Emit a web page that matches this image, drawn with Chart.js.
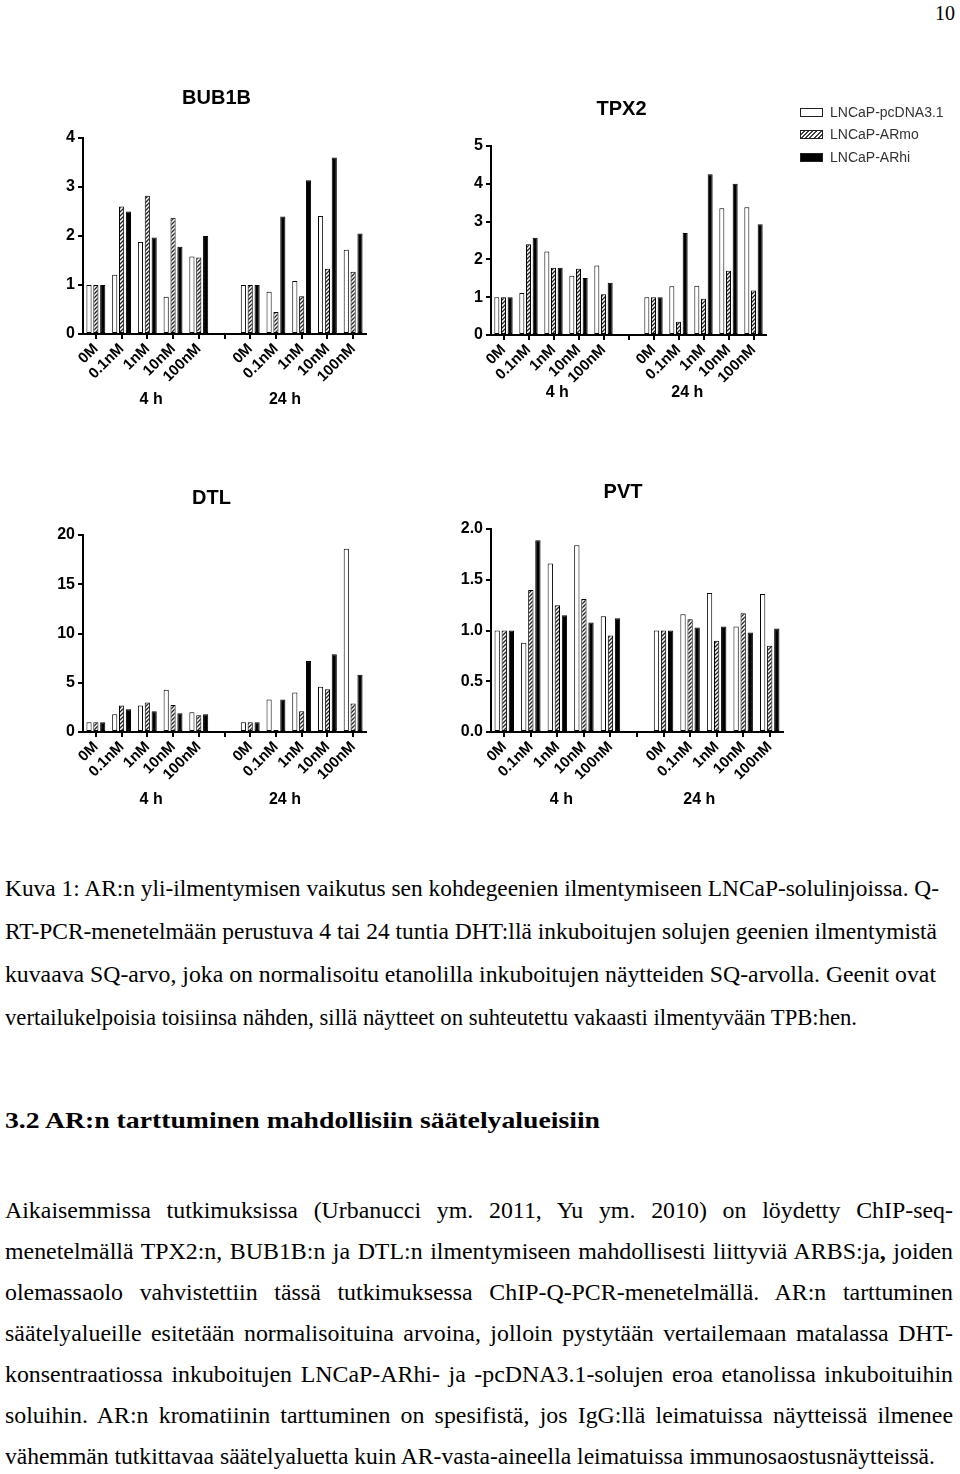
<!DOCTYPE html>
<html><head><meta charset="utf-8">
<script src="https://cdn.jsdelivr.net/npm/chart.js@4.4.1/dist/chart.umd.min.js"></script>
<style>
html,body{margin:0;padding:0;background:#fff;}
body{width:960px;height:1474px;position:relative;overflow:hidden;font-family:"Liberation Serif","Times New Roman",serif;color:#000;}
canvas.cv{position:absolute;}
.line{position:absolute;left:5px;white-space:nowrap;transform-origin:0 0;line-height:1;}
.cap{font-size:23.5px;}
.body{font-size:24px;}
.head{font-size:23px;font-weight:bold;}
.legend{position:absolute;left:800px;top:100px;font-family:"Liberation Sans",Arial,sans-serif;font-size:14px;color:#333;}
.legend div{position:absolute;left:0;white-space:nowrap;height:20px;}
.legend span.sw{position:absolute;left:0;width:23px;height:9px;border:1px solid #222;box-sizing:border-box;}
.legend span.tx{position:absolute;left:30px;top:0;line-height:20px;}
</style>
</head><body>

<canvas id="c_bub1b" class="cv" width="400" height="360" style="left:0px;top:60px;"></canvas>
<canvas id="c_tpx2" class="cv" width="400" height="360" style="left:410px;top:60px;"></canvas>
<canvas id="c_dtl" class="cv" width="400" height="380" style="left:0px;top:440px;"></canvas>
<canvas id="c_pvt" class="cv" width="400" height="380" style="left:410px;top:440px;"></canvas>

<div class="legend" id="legend"></div>

<div class="line" style="font-size:20px;" data-b="20" data-r="955">10</div>

<div class="line cap" data-b="897" data-w="939">Kuva 1: AR:n yli-ilmentymisen vaikutus sen kohdegeenien ilmentymiseen LNCaP-solulinjoissa. Q-</div>
<div class="line cap" data-b="940" data-w="937">RT-PCR-menetelmään perustuva 4 tai 24 tuntia DHT:llä inkuboitujen solujen geenien ilmentymistä</div>
<div class="line cap" data-b="983" data-w="936">kuvaava SQ-arvo, joka on normalisoitu etanolilla inkuboitujen näytteiden SQ-arvolla. Geenit ovat</div>
<div class="line cap" data-b="1026" data-w="857">vertailukelpoisia toisiinsa nähden, sillä näytteet on suhteutettu vakaasti ilmentyvään TPB:hen.</div>

<div class="line head" data-b="1128" data-w="600">3.2 AR:n tarttuminen mahdollisiin säätelyalueisiin</div>

<div class="line body" data-b="1218" data-w="953" data-j="1">Aikaisemmissa tutkimuksissa (Urbanucci ym. 2011, Yu ym. 2010) on löydetty ChIP-seq-</div>
<div class="line body" data-b="1259" data-w="953" data-j="1">menetelmällä TPX2:n, BUB1B:n ja DTL:n ilmentymiseen mahdollisesti liittyviä ARBS:ja<b>,</b> joiden</div>
<div class="line body" data-b="1300" data-w="953" data-j="1">olemassaolo vahvistettiin tässä tutkimuksessa ChIP-Q-PCR-menetelmällä. AR:n tarttuminen</div>
<div class="line body" data-b="1341" data-w="953" data-j="1">säätelyalueille esitetään normalisoituina arvoina, jolloin pystytään vertailemaan matalassa DHT-</div>
<div class="line body" data-b="1382" data-w="953" data-j="1">konsentraatiossa inkuboitujen LNCaP-ARhi- ja -pcDNA3.1-solujen eroa etanolissa inkuboituihin</div>
<div class="line body" data-b="1423" data-w="953" data-j="1">soluihin. AR:n kromatiinin tarttuminen on spesifistä, jos IgG:llä leimatuissa näytteissä ilmenee</div>
<div class="line body" data-b="1464" data-w="935">vähemmän tutkittavaa säätelyaluetta kuin AR-vasta-aineella leimatuissa immunosaostusnäytteissä.</div>

<script>
// ---------- DATA ----------
const categories = ['0M', '0.1nM', '1nM', '10nM', '100nM', '', '0M', '0.1nM', '1nM', '10nM', '100nM'];
const groupLabels = ['4 h', '24 h'];
const seriesNames = ['LNCaP-pcDNA3.1', 'LNCaP-ARmo', 'LNCaP-ARhi'];

const bub1bPcDNA = [1, 1.21, 1.88, 0.76, 1.58, null, 1, 0.86, 1.08, 2.41, 1.72];
const bub1bARmo  = [1, 2.60, 2.82, 2.37, 1.56, null, 1, 0.45, 0.77, 1.33, 1.27];
const bub1bARhi  = [1, 2.50, 1.97, 1.78, 2.00, null, 1, 2.40, 3.14, 3.60, 2.05];
const bub1bYTicks = [0, 1, 2, 3, 4];

const tpx2PcDNA = [1, 1.11, 2.21, 1.57, 1.84, null, 1, 1.29, 1.30, 3.35, 3.38];
const tpx2ARmo  = [1, 2.40, 1.78, 1.75, 1.08, null, 1, 0.35, 0.96, 1.70, 1.18];
const tpx2ARhi  = [1, 2.57, 1.78, 1.51, 1.38, null, 1, 2.70, 4.25, 4.00, 2.93];
const tpx2YTicks = [0, 1, 2, 3, 4, 5];

const dtlPcDNA = [1, 1.8, 2.7, 4.3, 2.0, null, 1, 3.3, 4.0, 4.6, 18.6];
const dtlARmo  = [1, 2.7, 3.0, 2.75, 1.7, null, 1, 0.2, 2.1, 4.35, 2.9];
const dtlARhi  = [1, 2.3, 2.1, 1.9, 1.8, null, 1, 3.3, 7.2, 7.9, 5.8];
const dtlYTicks = [0, 5, 10, 15, 20];

const pvtPcDNA = [1, 0.88, 1.66, 1.84, 1.14, null, 1, 1.16, 1.37, 1.04, 1.36];
const pvtARmo  = [1, 1.40, 1.25, 1.31, 0.95, null, 1.0, 1.11, 0.90, 1.17, 0.85];
const pvtARhi  = [1, 1.89, 1.15, 1.08, 1.12, null, 1, 1.03, 1.04, 0.98, 1.02];
const pvtYTicks = ['0.0', '0.5', '1.0', '1.5', '2.0'];

// ---------- RENDER ----------
Chart.defaults.font.family = '"Liberation Sans", Arial, sans-serif';
Chart.defaults.color = '#000';

function makeHatch() {
  const c = document.createElement('canvas'); c.width = 4; c.height = 4;
  const g = c.getContext('2d');
  g.fillStyle = '#fff'; g.fillRect(0, 0, 4, 4);
  g.strokeStyle = '#222'; g.lineWidth = 1.3;
  g.beginPath();
  g.moveTo(0, 4); g.lineTo(4, 0);
  g.moveTo(-1, 1); g.lineTo(1, -1);
  g.moveTo(3, 5); g.lineTo(5, 3);
  g.stroke();
  return g.createPattern(c, 'repeat');
}
const hatch = makeHatch();

// draws chart title and the "4 h" / "24 h" group labels
const annotPlugin = {
  id: 'annot',
  afterDraw(chart, args, opts) {
    const xs = chart.scales.x;
    const ca = chart.chartArea;
    const w = xs.getPixelForValue(1) - xs.getPixelForValue(0);
    const g = chart.ctx;
    g.save();
    g.fillStyle = '#000';
    g.textAlign = 'center';
    g.textBaseline = 'middle';
    g.font = 'bold 20px "Liberation Sans", Arial, sans-serif';
    g.fillText(opts.title, (ca.left + ca.right) / 2 + opts.titleDx, opts.titleY);
    g.font = 'bold 16px "Liberation Sans", Arial, sans-serif';
    const x1 = (xs.getPixelForValue(0) + xs.getPixelForValue(4)) / 2 + 0.15 * w;
    const x2 = (xs.getPixelForValue(6) + xs.getPixelForValue(10)) / 2 - 0.65 * w;
    g.fillText(groupLabels[0], x1, opts.gY);
    g.fillText(groupLabels[1], x2, opts.gY);
    g.restore();
  }
};

function makeChart(id, title, series, yTicks, geom) {
  const yMax = parseFloat(yTicks[yTicks.length - 1]);
  const yStep = parseFloat(yTicks[1]) - parseFloat(yTicks[0]);
  const dec = String(yTicks[1]).includes('.') ? 1 : 0;
  const fills = ['#fff', hatch, '#000'];
  return new Chart(document.getElementById(id), {
    type: 'bar',
    data: {
      labels: categories,
      datasets: series.map((d, i) => ({
        label: seriesNames[i], data: d, backgroundColor: fills[i],
        borderColor: '#000', borderWidth: 1, borderSkipped: false
      }))
    },
    options: {
      responsive: false, animation: false, devicePixelRatio: 1,
      layout: { padding: { left: geom.padL, right: geom.padR, top: geom.padT, bottom: geom.padB } },
      datasets: { bar: { categoryPercentage: 0.8, barPercentage: 0.75 } },
      plugins: {
        legend: { display: false }, tooltip: { enabled: false }, title: { display: false },
        annot: { title: title, titleDx: geom.tDx, titleY: geom.tY, gY: geom.gY }
      },
      scales: {
        x: {
          grid: { display: true, drawOnChartArea: false, offset: false, tickLength: 5, color: '#000', lineWidth: 2 },
          border: { display: true, color: '#000', width: 2 },
          ticks: { autoSkip: false, maxRotation: 45, minRotation: 45, padding: 1, color: '#000',
            font: { size: 15, weight: 'bold' } },
          afterFit: s => { s.height = geom.xH; }
        },
        y: {
          min: 0, max: yMax,
          grid: { display: true, drawOnChartArea: false, tickLength: 5, color: '#000', lineWidth: 2 },
          border: { display: true, color: '#000', width: 2 },
          ticks: { stepSize: yStep, padding: 3, color: '#000', font: { size: 16, weight: 'bold' },
            callback: v => Number(v).toFixed(dec) },
          afterFit: s => { s.width = 32; }
        }
      }
    },
    plugins: [annotPlugin]
  });
}

makeChart('c_bub1b', 'BUB1B', [bub1bPcDNA, bub1bARmo, bub1bARhi], bub1bYTicks,
  { padL: 51, padR: 34, padT: 78, xH: 80, padB: 6, gY: 340, tY: 38, tDx: -8 });
makeChart('c_tpx2', 'TPX2', [tpx2PcDNA, tpx2ARmo, tpx2ARhi], tpx2YTicks,
  { padL: 49, padR: 44, padT: 86, xH: 79, padB: 6, gY: 333, tY: 49, tDx: -7 });
makeChart('c_dtl', 'DTL', [dtlPcDNA, dtlARmo, dtlARhi], dtlYTicks,
  { padL: 51, padR: 34, padT: 95, xH: 82, padB: 6, gY: 360, tY: 58, tDx: -13 });
makeChart('c_pvt', 'PVT', [pvtPcDNA, pvtARmo, pvtARhi], pvtYTicks,
  { padL: 49, padR: 27, padT: 89, xH: 82, padB: 6, gY: 360, tY: 52, tDx: -14 });

// legend
(function () {
  const lg = document.getElementById('legend');
  const swStyles = [
    'background:#fff;',
    'background:repeating-linear-gradient(135deg,#fff 0px,#fff 1.5px,#444 1.5px,#444 3px);',
    'background:#000;'
  ];
  const rowsTop = [2, 24, 47];
  seriesNames.forEach((n, i) => {
    const d = document.createElement('div');
    d.style.top = rowsTop[i] + 'px';
    d.innerHTML = '<span class="sw" style="top:6px;' + swStyles[i] + '"></span><span class="tx">' + n + '</span>';
    lg.appendChild(d);
  });
})();

// text layout
function layoutText() {
  const lines = [...document.querySelectorAll('.line')];
  let k = Infinity;
  lines.filter(e => e.dataset.j).forEach(e => {
    k = Math.min(k, (parseFloat(e.dataset.w) - 5) / e.getBoundingClientRect().width);
  });
  const bodyScale = k * 0.985;
  lines.forEach(el => {
    const fs = parseFloat(getComputedStyle(el).fontSize);
    const b = parseFloat(el.dataset.b);
    el.style.top = (b - 0.8375 * fs) + 'px';
    const nat = el.getBoundingClientRect().width;
    if (el.dataset.r) {
      el.style.left = (parseFloat(el.dataset.r) - nat) + 'px';
      return;
    }
    const target = parseFloat(el.dataset.w) - 5;
    if (el.dataset.j) {
      const T = target / bodyScale;
      const n = (el.textContent.match(/ /g) || []).length;
      el.style.wordSpacing = ((T - nat) / n) + 'px';
      el.style.transform = 'scaleX(' + bodyScale + ')';
    } else {
      el.style.transform = 'scaleX(' + (target / nat) + ')';
    }
  });
}
layoutText();
</script>
</body></html>
